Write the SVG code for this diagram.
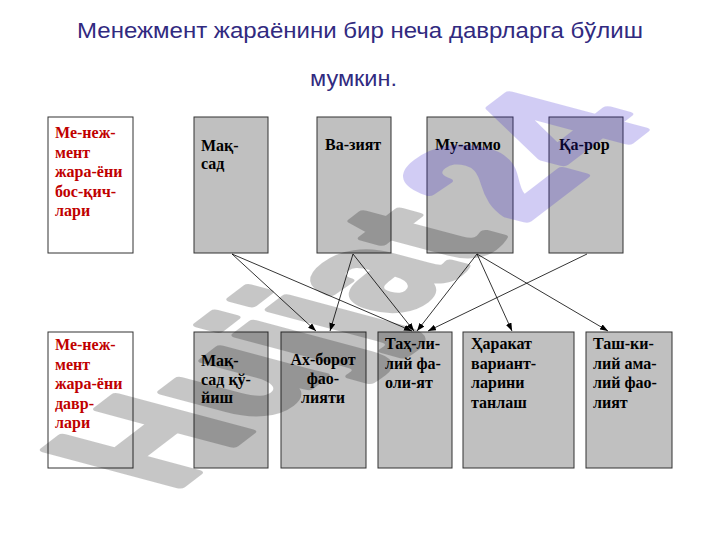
<svg xmlns="http://www.w3.org/2000/svg" width="720" height="540" viewBox="0 0 720 540">
<style>
.title{font-family:"Liberation Sans",Arial,sans-serif;font-size:22px;fill:#312a80}
.box{fill:#c0c0c0;stroke:#333;stroke-width:1}
.wbox{fill:#fff;stroke:#333;stroke-width:1}
.t{font-family:"Liberation Serif","Times New Roman",serif;font-size:16px;font-weight:bold;fill:#000}
.red{fill:#c00000}
.mid{text-anchor:middle}
.conn line{stroke:#000;stroke-width:0.8;marker-end:url(#ah)}
.wm{font-family:"Liberation Sans",Arial,sans-serif;font-weight:bold;font-size:100px;stroke-width:5;stroke-linejoin:round}
</style>
<defs>
<marker id="ah" markerUnits="userSpaceOnUse" markerWidth="8" markerHeight="6" refX="8" refY="3" orient="auto">
<path d="M0,0 L8,3 L0,6 z" fill="#000"/>
</marker>
</defs>
<rect width="720" height="540" fill="#fff"/>
<g id="title">
<text class="title" x="360" y="38" text-anchor="middle" textLength="566" lengthAdjust="spacingAndGlyphs">Менежмент жараёнини бир неча даврларга бўлиш</text>
<text class="title" x="353.5" y="86" text-anchor="middle" textLength="87" lengthAdjust="spacingAndGlyphs">мумкин.</text>
</g>
<g id="n-stages">
<rect class="wbox" x="48" y="117" width="85" height="136"/>
<text class="t red"><tspan x="55" y="138">Ме-неж-</tspan><tspan x="55" y="157.5">мент</tspan><tspan x="55" y="177">жара-ёни</tspan><tspan x="55" y="196.5">бос-қич-</tspan><tspan x="55" y="216">лари</tspan></text>
</g>
<g id="n-maqsad">
<rect class="box" x="194" y="117" width="74" height="136"/>
<text class="t"><tspan x="201" y="151">Мақ-</tspan><tspan x="201" y="169">сад</tspan></text>
</g>
<g id="n-vaziyat">
<rect class="box" x="317" y="117" width="74" height="136"/>
<text class="t" x="325" y="150">Ва-зият</text>
</g>
<g id="n-muammo">
<rect class="box" x="427" y="117" width="86" height="136"/>
<text class="t" x="435" y="150">Му-аммо</text>
</g>
<g id="n-qaror">
<rect class="box" x="549" y="117" width="74" height="136"/>
<text class="t" x="559" y="150">Қа-рор</text>
</g>
<g id="n-periods">
<rect class="wbox" x="48" y="332" width="85" height="136"/>
<text class="t red"><tspan x="55" y="350">Ме-неж-</tspan><tspan x="55" y="369.5">мент</tspan><tspan x="55" y="389">жара-ёни</tspan><tspan x="55" y="408.5">давр-</tspan><tspan x="55" y="428">лари</tspan></text>
</g>
<g id="n-maqsad-quyish">
<rect class="box" x="194" y="332" width="74" height="136"/>
<text class="t"><tspan x="201" y="366">Мақ-</tspan><tspan x="201" y="384.5">сад қў-</tspan><tspan x="201" y="403">йиш</tspan></text>
</g>
<g id="n-axborot">
<rect class="box" x="281" y="332" width="85" height="136"/>
<text class="t mid"><tspan x="323" y="365">Ах-борот</tspan><tspan x="323" y="384">фао-</tspan><tspan x="323" y="403">лияти</tspan></text>
</g>
<g id="n-tahlil">
<rect class="box" x="378" y="332" width="74" height="136"/>
<text class="t"><tspan x="385" y="349">Таҳ-ли-</tspan><tspan x="385" y="368.5">лий фа-</tspan><tspan x="385" y="388">оли-ят</tspan></text>
</g>
<g id="n-harakat">
<rect class="box" x="463" y="332" width="111" height="136"/>
<text class="t"><tspan x="471" y="349">Ҳаракат</tspan><tspan x="471" y="368.5">вариант-</tspan><tspan x="471" y="388">ларини</tspan><tspan x="471" y="407.5">танлаш</tspan></text>
</g>
<g id="n-tashkiliy">
<rect class="box" x="586" y="332" width="86" height="136"/>
<text class="t"><tspan x="593" y="349">Таш-ки-</tspan><tspan x="593" y="368.5">лий ама-</tspan><tspan x="593" y="388">лий фао-</tspan><tspan x="593" y="407.5">лият</tspan></text>
</g>
<g id="connectors" class="conn">
<line x1="232" y1="254" x2="316" y2="331"/>
<line x1="232" y1="254" x2="412" y2="331"/>
<line x1="353" y1="254" x2="330" y2="331"/>
<line x1="353" y1="254" x2="414" y2="331"/>
<line x1="477" y1="254" x2="417" y2="331"/>
<line x1="477" y1="254" x2="512" y2="331"/>
<line x1="477" y1="254" x2="608" y2="331"/>
<line x1="587" y1="254" x2="428" y2="331"/>
</g>
<g id="watermark">
<g opacity="0.22"><text class="wm" transform="matrix(1.2 -0.92 1.956 0.524 172 492)" fill="#000" stroke="#000">Hujjat</text></g>
<g opacity="0.22"><text class="wm" transform="matrix(1.2 -0.92 1.956 0.524 172 492)" fill="#321bd1" stroke="#321bd1" x="292">24</text></g>
</g>
</svg>
